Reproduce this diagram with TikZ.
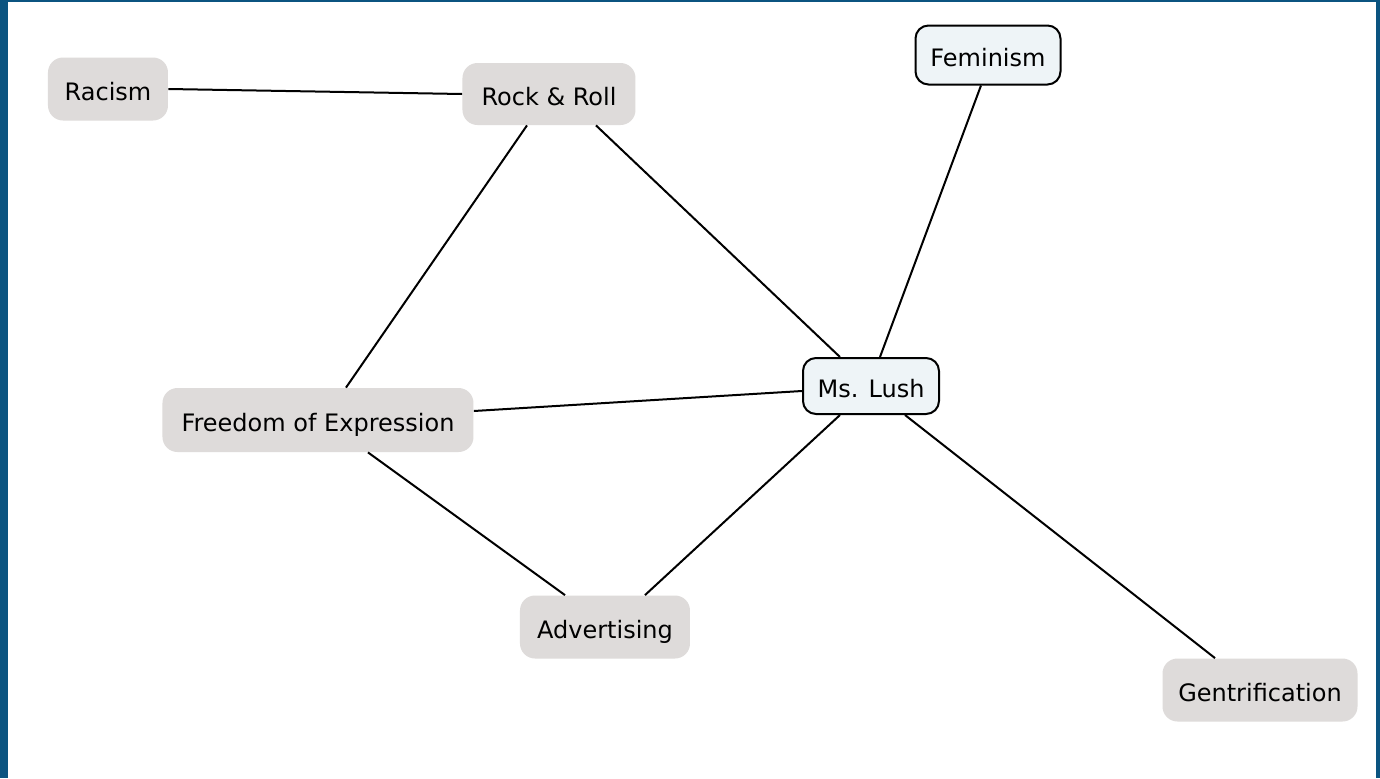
\documentclass[tikz,border=0pt]{standalone}
\usepackage{fontspec}
\setmainfont{DejaVu Sans}
\usepackage{tikz}
\usetikzlibrary{positioning}

\definecolor{frameblue}{RGB}{11,84,128}
\definecolor{topicgrey}{RGB}{222,219,218}
\definecolor{huebluefill}{RGB}{238,244,247}

\begin{document}
\begin{tikzpicture}[on grid,
		font=\fontsize{12}{14}\selectfont,
		topic/.style={rectangle, rounded corners=7.5pt, fill=topicgrey, inner sep=0pt, text height=11.5pt, text depth=0pt},
		hub/.style={rectangle, rounded corners=6.5pt, draw=black, line width=1pt, fill=huebluefill, inner sep=0pt, text height=11.5pt, text depth=0pt},
		link/.style={line width=1pt}]
		% frame
		\fill[frameblue] (-435.5pt,193pt) rectangle (254.5pt,-196pt);
		\fill[white] (-431.5pt,192pt) rectangle (252.5pt,-196pt);

		\node[hub, minimum width=68pt, minimum height=28pt] (MsLush) at (0,0) {Ms. Lush};
		\node[hub, minimum width=72.5pt, minimum height=29.5pt] (Feminism) [above right=165.5pt and 58.5pt of MsLush] {Feminism};
		\node[topic, minimum width=86.5pt, minimum height=31pt] (RockAndRoll) [above left=146pt and 161pt of MsLush] {Rock \& Roll};
		\node[topic, minimum width=60pt, minimum height=31.5pt] (Racism) [left=220.5pt of RockAndRoll, yshift=2.5pt] {Racism};
		\node[topic, minimum width=155.5pt, minimum height=32pt] (Freedom) [below left=17pt and 276.5pt of MsLush] {Freedom of Expression};
		\node[topic, minimum width=85pt, minimum height=31.5pt] (Advertising) [below left=120.5pt and 133pt of MsLush] {Advertising};
		\node[topic, minimum width=97.5pt, minimum height=31.5pt] (Gentrification) [below right=152pt and 194.5pt of MsLush] {Gentrification};

		\path[link]
		(Racism.east) edge (RockAndRoll.west)
		([xshift=-11pt]RockAndRoll.south) edge ([xshift=14pt]Freedom.north)
		([xshift=23.5pt]RockAndRoll.south) edge ([xshift=-15.5pt]MsLush.north)
		([xshift=-3.5pt]Feminism.south) edge ([xshift=4.5pt]MsLush.north)
		([yshift=4.5pt]Freedom.east) edge ([yshift=-2.5pt]MsLush.west)
		([xshift=25pt]Freedom.south) edge ([xshift=-20pt]Advertising.north)
		([xshift=-15.5pt]MsLush.south) edge ([xshift=20pt]Advertising.north)
		([xshift=17pt]MsLush.south) edge ([xshift=-22.5pt]Gentrification.north);

\end{tikzpicture}
\end{document}
